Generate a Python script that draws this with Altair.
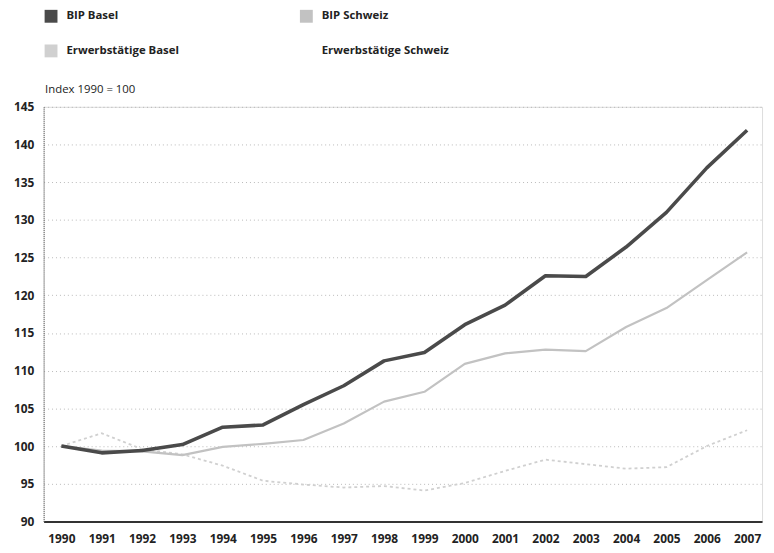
import altair as alt
import pandas as pd

years = list(range(1990, 2008))
bip_basel = [100, 99.1, 99.4, 100.2, 102.5, 102.8, 105.5, 108.0, 111.3, 112.4,
             116.1, 118.7, 122.6, 122.5, 126.4, 131.0, 136.9, 141.9]
bip_schweiz = [100, 99.4, 99.3, 98.8, 99.9, 100.3, 100.8, 103.0, 105.9, 107.2,
               110.9, 112.3, 112.8, 112.6, 115.8, 118.3, 122.0, 125.7]
erw_basel = [100, 101.7, 99.6, 98.9, 97.4, 95.4, 94.9, 94.5, 94.7, 94.1,
             95.1, 96.7, 98.2, 97.6, 97.0, 97.2, 100.0, 102.1]

series_names = ["BIP Basel", "BIP Schweiz", "Erwerbstätige Basel", "Erwerbstätige Schweiz"]
series_colors = ["#4a4a4a", "#c2c2c2", "#d0d0d0", "#ffffff"]
y_ticks = [90, 95, 100, 105, 110, 115, 120, 125, 130, 135, 140, 145]

rows = []
for name, vals in zip(series_names[:3], [bip_basel, bip_schweiz, erw_basel]):
    for y, v in zip(years, vals):
        rows.append({"Jahr": y, "Index": v, "Serie": name})
df = pd.DataFrame(rows)

FONT = "Open Sans"

color = alt.Color(
    "Serie:N",
    scale=alt.Scale(domain=series_names, range=series_colors),
    legend=alt.Legend(
        title=None, orient="none", legendX=1, legendY=-98, columns=2,
        direction="horizontal",
        symbolType="square", symbolSize=169, symbolStrokeWidth=0,
        symbolDash=[1, 0], symbolOpacity=1,
        labelFont=FONT, labelFontSize=11.5, labelFontWeight="bold", labelColor="#222",
        columnPadding=122, rowPadding=22, labelOffset=9,
    ),
)

x = alt.X(
    "Jahr:Q",
    scale=alt.Scale(domain=[1989.56, 2007.37], nice=False, zero=False),
    axis=alt.Axis(values=years, format="d", title=None, grid=False, ticks=False,
                  labelFont=FONT, labelFontSize=12, labelFontWeight="bold",
                  labelColor="#222", labelPadding=12, labelFlush=False,
                  domainColor="#333", domainWidth=2),
)
y = alt.Y(
    "Index:Q",
    scale=alt.Scale(domain=[90, 145], nice=False, zero=False),
    axis=alt.Axis(values=y_ticks, title="Index 1990 = 100", titleAngle=0,
                  titleAlign="left", titleBaseline="middle", titleX=1, titleY=-17,
                  titleFont=FONT, titleFontSize=11.5, titleFontWeight="normal",
                  titleColor="#222",
                  ticks=False, labelFont=FONT, labelFontSize=12, labelFontWeight="bold",
                  labelColor="#222", labelPadding=10,
                  grid=True, gridColor="#a8a8a8", gridDash=[1, 3], gridWidth=0.8,
                  domainColor="#555", domainDash=[1, 1], domainWidth=1),
)

base = alt.Chart(df)

pts = base.mark_point(filled=True, opacity=0, size=1).encode(x=x, y=y, color=color)
erw = base.transform_filter(alt.datum.Serie == "Erwerbstätige Basel").mark_line(
    strokeWidth=1.8, strokeDash=[3, 3], strokeCap="butt").encode(x=x, y=y, color=color)
ch = base.transform_filter(alt.datum.Serie == "BIP Schweiz").mark_line(
    strokeWidth=2.2, strokeJoin="round").encode(x=x, y=y, color=color)
bs = base.transform_filter(alt.datum.Serie == "BIP Basel").mark_line(
    strokeWidth=3.6, strokeJoin="round").encode(x=x, y=y, color=color)

chart = alt.layer(pts, erw, ch, bs).properties(
    width=726, height=419,
    autosize=alt.AutoSizeParams(type="none"),
    padding={"left": 36, "top": 97, "right": 4, "bottom": 28},
).configure_view(stroke=None).configure(background="white")

chart.save("out.html", embed_options={"renderer": "svg", "actions": False})
